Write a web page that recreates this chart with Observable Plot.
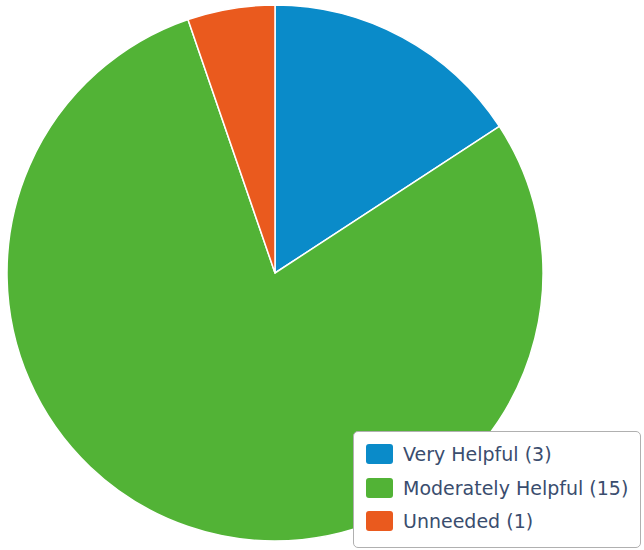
<!DOCTYPE html>
<html>
<head>
<meta charset="utf-8">
<script src="https://cdn.jsdelivr.net/npm/d3@7"></script>
<script src="https://cdn.jsdelivr.net/npm/@observablehq/plot@0.6"></script>
<style>
  html, body { margin: 0; padding: 0; background: #fff; }
  #wrap { position: relative; width: 644px; height: 550px; overflow: hidden; }
  #legend {
    position: absolute; left: 353px; top: 431px; width: 286px; height: 115px;
    border: 1px solid #b0b0b0; border-radius: 5px; background: #fff;
    font-family: "DejaVu Sans", sans-serif; font-size: 19px; color: #3a4d6e;
  }
  .item { position: absolute; left: 12px; display: flex; align-items: center; height: 22px; white-space: nowrap; }
  .sw { width: 27px; height: 20px; border-radius: 3px; margin-right: 10px; }
</style>
</head>
<body>
<div id="wrap"></div>
<script>
const categories = ["Very Helpful", "Moderately Helpful", "Unneeded"];
const counts = [3, 15, 1];
const colors = ["#0a8bc9", "#52b336", "#ea5a1e"];

const data = categories.map((c, i) => ({category: c, count: counts[i]}));
const arcs = d3.pie().sort(null).value(d => d.count)(data);

const pieMark = (index, scales) => {
  const cx = scales.x(0), cy = scales.y(0);
  const r = scales.x(1) - scales.x(0);
  const arc = d3.arc().innerRadius(0).outerRadius(r);
  const g = d3.create("svg:g").attr("transform", `translate(${cx},${cy})`);
  g.selectAll("path").data(arcs).join("path")
    .attr("d", arc)
    .attr("fill", d => scales.color(d.data.category))
    .attr("stroke", "#fff")
    .attr("stroke-width", 1.5)
    .attr("stroke-linejoin", "round");
  return g.node();
};

const chart = Plot.plot({
  width: 644,
  height: 550,
  margin: 0,
  x: {domain: [-1, 1], range: [7, 543], axis: null},
  y: {domain: [-1, 1], range: [541, 5], axis: null},
  color: {domain: categories, range: colors},
  marks: [pieMark]
});
const wrap = document.getElementById("wrap");
wrap.appendChild(chart);

const legend = document.createElement("div");
legend.id = "legend";
const tops = [11, 45, 78];
categories.forEach((c, i) => {
  const item = document.createElement("div");
  item.className = "item";
  item.style.top = tops[i] + "px";
  const sw = document.createElement("div");
  sw.className = "sw";
  sw.style.background = colors[i];
  const t = document.createElement("span");
  t.textContent = `${c} (${counts[i]})`;
  item.appendChild(sw);
  item.appendChild(t);
  legend.appendChild(item);
});
wrap.appendChild(legend);
</script>
</body>
</html>
